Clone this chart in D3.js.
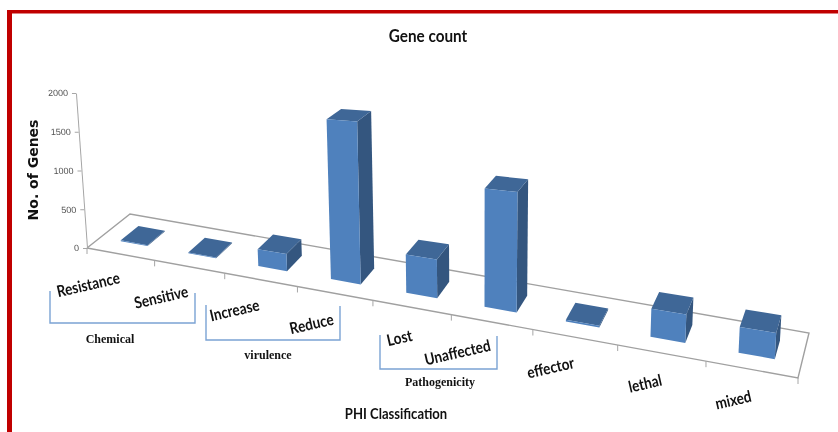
<!DOCTYPE html>
<html>
<head>
<meta charset="utf-8">
<script src="https://cdn.jsdelivr.net/npm/d3@7"></script>
<style>
  html, body { margin: 0; padding: 0; background: #fff; }
  svg { display: block; filter: blur(0.4px); }
  text { font-family: Lato, sans-serif; }
</style>
</head>
<body>
<div id="plot-container"></div>
<script>
// Values
const categories = ["Resistance", "Sensitive", "Increase", "Reduce", "Lost", "Unaffected", "effector", "lethal", "mixed"];
const geneCounts = [10, 10, 190, 1720, 390, 1155, 15, 250, 220];
const yTicks = [0, 500, 1000, 1500, 2000];

// Category label nudges, the labels are staggered in the original
const labelShift = [-31, -27, -25, -22, -11, -33, -23, -15, -17];

const groups = [
  { name: "Chemical", left: 50, right: 195, topL: 291, topR: 293, bottom: 323, tx: 110, ty: 343 },
  { name: "virulence", left: 206, right: 340, topL: 305, topR: 306, bottom: 340, tx: 268, ty: 359 },
  { name: "Pathogenicity", left: 380, right: 497, topL: 335, topR: 336, bottom: 369, tx: 440, ty: 386 }
];

const width = 838, height = 432;

const svg = d3.select("#plot-container")
  .append("svg")
  .attr("width", width)
  .attr("height", height);

// Red frame
svg.append("rect").attr("x", 7).attr("y", 10).attr("width", 5).attr("height", height - 10).attr("fill", "#c00000");
svg.append("rect").attr("x", 7).attr("y", 10).attr("width", width - 7).attr("height", 3.5).attr("fill", "#c00000");

// Floor corners on screen: front left, front right, back left, back right
const fl = [87, 248], fr = [798, 378], bl = [130, 214], br = [809, 333];

// Square to quad perspective transform
const sx = fl[0] - fr[0] + br[0] - bl[0], sy = fl[1] - fr[1] + br[1] - bl[1];
const d1x = fr[0] - br[0], d1y = fr[1] - br[1], d2x = bl[0] - br[0], d2y = bl[1] - br[1];
const den = d1x * d2y - d2x * d1y;
const g = (sx * d2y - d2x * sy) / den, h = (d1x * sy - sx * d1y) / den;

// The ticks bunch up to the left a bit more than the corners alone give
const squeeze = -0.05;
const u = d3.scaleLinear().domain([0, categories.length]).range([0, 1]);
const pxPerGene = d3.scaleLinear().domain([0, categories.length]).range([0.079, 0.123]);

function floor(i, d) {
  const a0 = u(i), a = a0 * (1 + squeeze) / (1 + squeeze * a0), w = g * a + h * d + 1;
  return [
    (fl[0] + (fr[0] * (1 + g) - fl[0]) * a + (bl[0] * (1 + h) - fl[0]) * d) / w,
    (fl[1] + (fr[1] * (1 + g) - fl[1]) * a + (bl[1] * (1 + h) - fl[1]) * d) / w
  ];
}

// Verticals lean towards a vanishing point under the chart, and shrink going back
function project(i, d, v) {
  const p = floor(i, d), up = v * pxPerGene(i) * (1 - 0.08 * d);
  return [p[0] + up * (p[0] - 480) * 0.000182, p[1] - up];
}

const line = d3.line();

// Floor outline
const wall = svg.append("g").attr("fill", "none").attr("stroke", "#a0a0a0").attr("stroke-width", 1.4);
wall.append("path").attr("d", line([fl, fr, br, bl, fl]));

// Ticks under the front edge
svg.append("g").selectAll("line")
  .data(d3.range(categories.length + 1))
  .enter()
  .append("line")
  .attr("x1", d => floor(d, 0)[0])
  .attr("x2", d => floor(d, 0)[0])
  .attr("y1", d => floor(d, 0)[1])
  .attr("y2", d => floor(d, 0)[1] + 6)
  .attr("stroke", "#a6a6a6");

// Y axis, sheared to follow the leaning wall
const y = d3.scaleLinear().domain([0, 2000]).range([0, -155]);
const yAxis = svg.append("g")
  .attr("transform", `matrix(1 0 ${(fl[0] - 480) * -0.000182} 1 ${fl[0]} ${fl[1]})`)
  .call(d3.axisLeft(y).tickValues(yTicks).tickSize(4).tickSizeOuter(0).tickPadding(4).tickFormat(d3.format("d")));
yAxis.select(".domain").attr("stroke", "#a6a6a6");
yAxis.selectAll(".tick line").attr("stroke", "#a6a6a6");
yAxis.selectAll(".tick text")
  .attr("fill", "#555")
  .style("font-family", "'Liberation Sans', sans-serif")
  .style("font-size", "9px");

// Bars: side, top and front face
const inset = 0.31, barW = 0.4, dFront = 0.3, dBack = 0.72;
const bars = svg.append("g").selectAll("g")
  .data(geneCounts)
  .enter()
  .append("g");

bars.append("path")
  .attr("fill", "#34567f")
  .attr("d", (v, i) => {
    const r = i + inset + barW;
    return line([project(r, dFront, 0), project(r, dBack, 0), project(r, dBack, v), project(r, dFront, v)]) + "Z";
  });
bars.append("path")
  .attr("fill", "#3f6797")
  .attr("d", (v, i) => {
    const l = i + inset, r = l + barW;
    return line([project(l, dFront, v), project(r, dFront, v), project(r, dBack, v), project(l, dBack, v)]) + "Z";
  });
bars.append("path")
  .attr("fill", "#4f81bd")
  .attr("d", (v, i) => {
    const l = i + inset, r = l + barW;
    return line([project(l, dFront, 0), project(r, dFront, 0), project(r, dFront, v), project(l, dFront, v)]) + "Z";
  });

// Category labels
svg.append("g").selectAll("text")
  .data(categories)
  .enter()
  .append("text")
  .attr("transform", (d, i) => {
    const p = floor(i + 0.5, 0);
    return `translate(${p[0] + labelShift[i]},${p[1] + 36}) rotate(-13) scale(0.85,1)`;
  })
  .attr("text-anchor", "middle")
  .attr("font-size", 16)
  .attr("font-weight", 700)
  .attr("fill", "#111")
  .text(d => d);

// Group brackets
svg.append("g").selectAll("path")
  .data(groups)
  .enter()
  .append("path")
  .attr("fill", "none")
  .attr("stroke", "#7ba3d4")
  .attr("stroke-width", 1.4)
  .attr("d", d => line([[d.left, d.topL], [d.left, d.bottom], [d.right, d.bottom], [d.right, d.topR]]));

svg.append("g").selectAll("text")
  .data(groups)
  .enter()
  .append("text")
  .attr("x", d => d.tx)
  .attr("y", d => d.ty)
  .attr("text-anchor", "middle")
  .attr("font-size", 12)
  .attr("font-weight", 700)
  .style("font-family", "'Liberation Serif', serif")
  .attr("fill", "#111")
  .text(d => d.name);

// Titles
svg.append("text")
  .attr("transform", "translate(428,42) scale(0.9,1)")
  .attr("text-anchor", "middle")
  .attr("font-size", 17).attr("font-weight", 700)
  .attr("fill", "#111")
  .text("Gene count");

svg.append("text")
  .attr("transform", "translate(396,419) scale(0.87,1)")
  .attr("text-anchor", "middle")
  .attr("font-size", 15).attr("font-weight", 700)
  .attr("fill", "#111")
  .text("PHI Classification");

svg.append("text")
  .attr("transform", "translate(38,170) rotate(-90)")
  .attr("text-anchor", "middle")
  .attr("font-size", 14).attr("font-weight", 700)
  .style("font-family", "'DejaVu Sans', sans-serif")
  .attr("fill", "#111")
  .text("No. of Genes");
</script>
</body>
</html>
